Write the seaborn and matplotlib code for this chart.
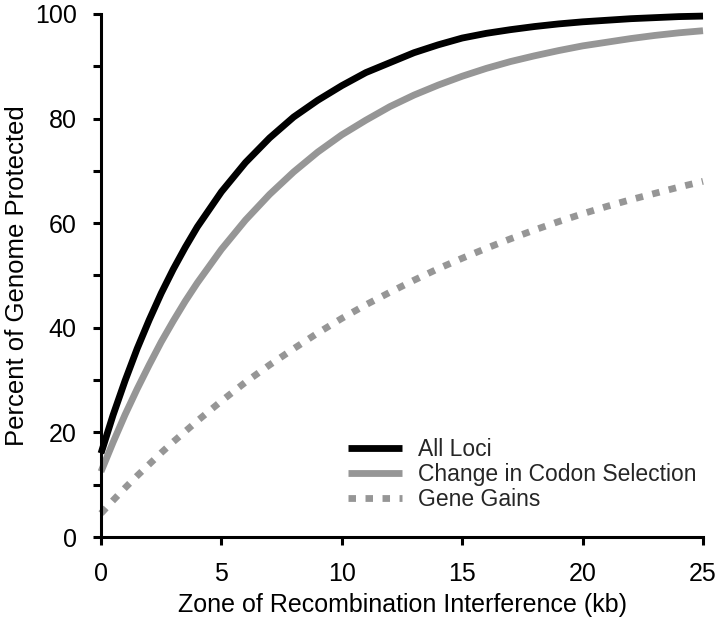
import matplotlib
matplotlib.use("Agg")
import matplotlib.pyplot as plt
from matplotlib.ticker import MultipleLocator
import seaborn as sns
import pandas as pd

# Data
zone_kb = [0, 0.5, 1, 1.5, 2, 2.5, 3, 3.5, 4, 5, 6, 7, 8, 9, 10, 11, 12, 13, 14, 15, 16, 17, 18, 19, 20,
           21, 22, 23, 24, 25]
all_loci = [16.0, 23.3, 29.9, 36.0, 41.5, 46.6, 51.2, 55.4, 59.3, 66.0, 71.6, 76.3, 80.3, 83.5, 86.3, 88.8,
            90.7, 92.6, 94.1, 95.4, 96.3, 97.0, 97.6, 98.1, 98.5, 98.8, 99.1, 99.3, 99.5, 99.6]
codon_sel = [12.5, 18.1, 23.4, 28.3, 32.9, 37.3, 41.3, 45.1, 48.6, 55.0, 60.6, 65.5, 69.8, 73.6, 76.9, 79.7,
             82.3, 84.5, 86.4, 88.1, 89.6, 90.9, 92.0, 93.0, 93.9, 94.6, 95.3, 95.9, 96.4, 96.8]
gene_gains = [4.5, 7.0, 9.4, 11.7, 13.9, 16.1, 18.2, 20.2, 22.2, 26.0, 29.6, 32.9, 36.0, 39.0, 41.8, 44.4,
              46.8, 49.1, 51.3, 53.3, 55.2, 57.0, 58.7, 60.3, 61.8, 63.2, 64.5, 65.7, 66.9, 68.0]
series_names = ["All Loci", "Change in Codon Selection", "Gene Gains"]
x_ticks = [0, 5, 10, 15, 20, 25]
y_ticks = [0, 20, 40, 60, 80, 100]

sns.set_theme(style="ticks")
plt.rcParams['font.family'] = ['Liberation Sans', 'DejaVu Sans']

df = pd.DataFrame({
    "x": zone_kb * 3,
    "y": all_loci + codon_sel + gene_gains,
    "series": [series_names[0]] * len(zone_kb) + [series_names[1]] * len(zone_kb) + [series_names[2]] * len(zone_kb),
})

fig = plt.figure(figsize=(7.2, 6.3), dpi=100)
ax = fig.add_axes([0.1403, 0.1476, 0.8361, 0.8302])

palette = {series_names[0]: "#000000", series_names[1]: "#969696", series_names[2]: "#969696"}
dashes = {series_names[0]: "", series_names[1]: "", series_names[2]: (1.1, 1.4)}
sns.lineplot(data=df, x="x", y="y", hue="series", style="series", palette=palette,
             dashes=dashes, linewidth=4.9, ax=ax, legend=True)
for ln in ax.get_lines():
    ln.set_dash_capstyle("butt")
    ln.set_solid_capstyle("butt")
    ln.set_solid_joinstyle("round")
    ln.set_clip_on(False)

ax.set_xlim(0, 25)
ax.set_ylim(0, 100)
ax.set_xticks(x_ticks)
ax.set_yticks(y_ticks)
ax.yaxis.set_minor_locator(MultipleLocator(10))
ax.tick_params(axis="both", which="both", direction="out", length=6, width=2.2, color="black",
               labelsize=18, labelcolor="black")
ax.tick_params(axis="y", which="both", pad=11.5)
ax.tick_params(axis="x", which="both", pad=12)
sns.despine(ax=ax)
for s in ["left", "bottom"]:
    ax.spines[s].set_linewidth(2.2)
    ax.spines[s].set_color("black")

ax.set_xlabel("Zone of Recombination Interference (kb)", fontsize=18, color="black", labelpad=5)
ax.set_ylabel("Percent of Genome Protected", fontsize=18.5, color="black", labelpad=4)

leg = ax.legend(loc="center left", bbox_to_anchor=(0.41, 0.12), frameon=False, fontsize=16.5,
                handlelength=2.35, handletextpad=0.7, labelspacing=0.08, borderpad=0, borderaxespad=0)
for h in leg.get_lines():
    h.set_linewidth(4.9)
    h.set_dash_capstyle("butt")

fig.savefig("out.png", dpi=100)
